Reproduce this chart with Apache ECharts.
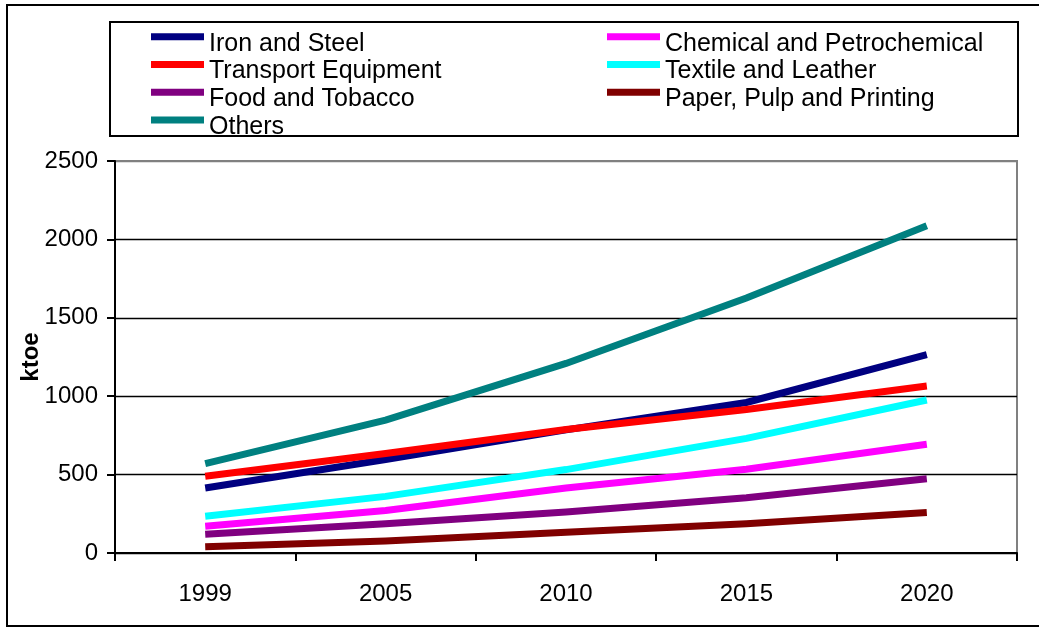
<!DOCTYPE html>
<html>
<head>
<meta charset="utf-8">
<script src="https://cdn.jsdelivr.net/npm/echarts@6/dist/echarts.min.js"></script>
<style>
  html, body { margin: 0; padding: 0; background: #fff; }
  #chart { width: 1039px; height: 627px; }
</style>
</head>
<body>
<div id="chart"></div>
<script>
// Final energy consumption by industrial branch (ktoe)
const years = ['1999', '2005', '2010', '2015', '2020'];

const ironSteel      = [415, 596, 785, 960, 1265];
const chemical       = [171, 271, 415, 534, 694];
const transportEquip = [490, 635, 788, 915, 1065];
const textile        = [235, 361, 532, 731, 976];
const foodTobacco    = [120, 186, 261, 353, 474];
const paperPulp      = [40, 77, 133, 186, 258];
const others         = [570, 848, 1209, 1626, 2087];

const seriesNames = [
  'Iron and Steel', 'Chemical and Petrochemical',
  'Transport Equipment', 'Textile and Leather',
  'Food and Tobacco', 'Paper, Pulp and Printing',
  'Others'
];
const seriesValues = [ironSteel, chemical, transportEquip, textile, foodTobacco, paperPulp, others];
const seriesColors = ['#000080', '#FF00FF', '#FF0000', '#00FFFF', '#800080', '#800000', '#008080'];

const FONT = '"Liberation Sans", Arial, sans-serif';

const chart = echarts.init(document.getElementById('chart'), null, { renderer: 'canvas' });

chart.setOption({
  backgroundColor: '#fff',
  animation: false,
  textStyle: { fontFamily: FONT },
  graphic: [
    { type: 'rect', shape: { x: 7, y: 5, width: 1040, height: 621 },
      style: { fill: 'none', stroke: '#000', lineWidth: 2 }, z: 100 },
    { type: 'rect', shape: { x: 110, y: 22, width: 908, height: 114 },
      style: { fill: 'none', stroke: '#000', lineWidth: 2 }, z: 100 }
  ],
  legend: {
    left: 151,
    top: 30,
    width: 930,
    padding: 0,
    itemGap: 0,
    itemWidth: 53,
    itemHeight: 21,
    // swatch sits in the upper part of the icon box, a little above the text centre
    icon: 'path://M0,0H53V7H0Z M0,20.9H0.01V21H0Z',
    textStyle: { fontSize: 25, color: '#000', width: 398, lineHeight: 27.7, fontFamily: FONT },
    data: seriesNames
  },
  grid: {
    left: 115, right: 22, top: 161, bottom: 74,
    show: true, borderColor: '#808080', borderWidth: 2,
    containLabel: false,
    outerBoundsMode: 'none'
  },
  xAxis: {
    type: 'category',
    data: years,
    boundaryGap: true,
    axisLine: { lineStyle: { color: '#000', width: 2 } },
    axisTick: { show: true, length: 8, lineStyle: { color: '#000', width: 2 } },
    axisLabel: { fontSize: 24, color: '#000', margin: 29, fontFamily: FONT },
    splitLine: { show: false }
  },
  yAxis: {
    type: 'value',
    min: 0, max: 2500, interval: 500,
    name: 'ktoe',
    nameLocation: 'middle',
    nameRotate: 90,
    nameGap: 72,
    nameMoveOverlap: false,
    nameTextStyle: { fontSize: 24, fontWeight: 'bold', color: '#000', fontFamily: FONT },
    axisLine: { show: true, lineStyle: { color: '#000', width: 2 } },
    axisTick: { show: true, length: 8, lineStyle: { color: '#000', width: 2 } },
    axisLabel: { fontSize: 24, color: '#000', margin: 17, fontFamily: FONT,
      formatter: (v) => String(v) },
    splitLine: { show: true, lineStyle: { color: ['#000', '#000', '#000', '#000', '#000', '#808080'], width: 1.3 } }
  },
  series: seriesNames.map((name, i) => ({
    name: name,
    type: 'line',
    data: seriesValues[i],
    symbol: 'none',
    smooth: false,
    color: seriesColors[i],
    lineStyle: { width: 7, color: seriesColors[i], cap: 'butt', join: 'miter' },
    emphasis: { disabled: true }
  }))
});
</script>
</body>
</html>
